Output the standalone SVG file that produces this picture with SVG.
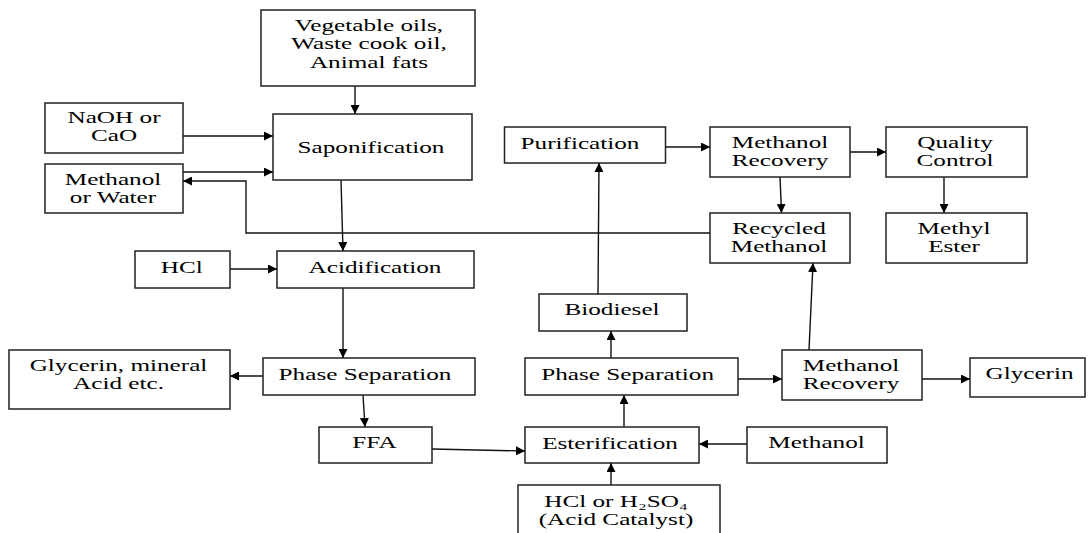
<svg xmlns="http://www.w3.org/2000/svg" width="1089" height="533" viewBox="0 0 1089 533">
<defs>
<marker id="ah" viewBox="0 0 10 10" refX="10" refY="5" markerWidth="9" markerHeight="9" markerUnits="userSpaceOnUse" orient="auto">
<path d="M0,0 L10,5 L0,10 z" fill="#000"/>
</marker>
<style>
.box{fill:#fff;stroke:#222;stroke-width:1.5}
text{font-family:'Liberation Serif','Times New Roman','DejaVu Serif',serif;font-size:16.8px;fill:#000;text-anchor:middle}
.c{fill:none;stroke:#111;stroke-width:1.4;marker-end:url(#ah)}
</style>
</defs>
<rect width="1089" height="533" fill="#fff"/>
<g id="connectors">
<path class="c" d="M355,86 V114"/>
<path class="c" d="M183,136 H273"/>
<path class="c" d="M183,172 H273"/>
<path class="c" d="M710,233 H246 V181 H183"/>
<path class="c" d="M341,180 L343,251"/>
<path class="c" d="M230,269 H277"/>
<path class="c" d="M343,288 V358"/>
<path class="c" d="M263,376 H230"/>
<path class="c" d="M363,395 L365,427"/>
<path class="c" d="M432,449 L525,451"/>
<path class="c" d="M747,444 H699"/>
<path class="c" d="M611,485 V463"/>
<path class="c" d="M624,427 V395"/>
<path class="c" d="M611,358 V331"/>
<path class="c" d="M738,379 H782"/>
<path class="c" d="M922,379 H970"/>
<path class="c" d="M809,350 L813,263"/>
<path class="c" d="M598,294 L599,163"/>
<path class="c" d="M666,147 H710"/>
<path class="c" d="M850,152 H886"/>
<path class="c" d="M780,177 L781.5,213"/>
<path class="c" d="M944,177 V213"/>
</g>
<g id="nodes" font-family="Liberation Serif, serif">
<g id="n-feed"><rect class="box" x="261" y="10" width="214" height="76"/>
<text transform="translate(369,31) scale(1.5,1)"><tspan x="0">Vegetable oils,</tspan><tspan x="0" dy="18.3">Waste cook oil,</tspan><tspan x="0" dy="18.3">Animal fats</tspan></text></g>
<g id="n-naoh"><rect class="box" x="45" y="103" width="138" height="50"/>
<text transform="translate(114,123) scale(1.5,1)"><tspan x="0">NaOH or</tspan><tspan x="0" dy="18.3">CaO</tspan></text></g>
<g id="n-mw"><rect class="box" x="45" y="164" width="138" height="49"/>
<text transform="translate(113,184.7) scale(1.5,1)"><tspan x="0">Methanol</tspan><tspan x="0" dy="18.3">or Water</tspan></text></g>
<g id="n-sapon"><rect class="box" x="273" y="114" width="199" height="66"/>
<text transform="translate(371,152.5) scale(1.5,1)">Saponification</text></g>
<g id="n-hcl"><rect class="box" x="135" y="251" width="95" height="37"/>
<text transform="translate(181.7,273) scale(1.5,1)">HCl</text></g>
<g id="n-acid"><rect class="box" x="277" y="251" width="197" height="37"/>
<text transform="translate(375,273) scale(1.5,1)">Acidification</text></g>
<g id="n-glymin"><rect class="box" x="9" y="350" width="221" height="59"/>
<text transform="translate(118.5,370.7) scale(1.5,1)"><tspan x="0">Glycerin, mineral</tspan><tspan x="0" dy="18.3">Acid etc.</tspan></text></g>
<g id="n-ps1"><rect class="box" x="263" y="358" width="212" height="37"/>
<text transform="translate(365,380) scale(1.5,1)">Phase Separation</text></g>
<g id="n-ffa"><rect class="box" x="319" y="427" width="113" height="36"/>
<text transform="translate(374.5,447.7) scale(1.5,1)">FFA</text></g>
<g id="n-ester"><rect class="box" x="525" y="427" width="174" height="36"/>
<text transform="translate(610,449) scale(1.5,1)">Esterification</text></g>
<g id="n-meoh"><rect class="box" x="747" y="427" width="140" height="36"/>
<text transform="translate(816.5,447.7) scale(1.5,1)">Methanol</text></g>
<g id="n-cat"><rect class="box" x="518" y="485" width="202" height="53"/>
<text transform="translate(616,506.6) scale(1.5,1)"><tspan x="0">HCl or H₂SO₄</tspan><tspan x="0" dy="18.3">(Acid Catalyst)</tspan></text></g>
<g id="n-ps2"><rect class="box" x="525" y="358" width="213" height="37"/>
<text transform="translate(627.6,380) scale(1.5,1)">Phase Separation</text></g>
<g id="n-bio"><rect class="box" x="539" y="294" width="148" height="37"/>
<text transform="translate(612,315) scale(1.5,1)">Biodiesel</text></g>
<g id="n-mr2"><rect class="box" x="782" y="350" width="140" height="50"/>
<text transform="translate(851,370.9) scale(1.5,1)"><tspan x="0">Methanol</tspan><tspan x="0" dy="18.3">Recovery</tspan></text></g>
<g id="n-gly"><rect class="box" x="970" y="358" width="115" height="39"/>
<text transform="translate(1029.5,379) scale(1.5,1)">Glycerin</text></g>
<g id="n-purif"><rect class="box" x="504.5" y="127" width="161" height="36"/>
<text transform="translate(580,149) scale(1.5,1)">Purification</text></g>
<g id="n-mr1"><rect class="box" x="710" y="127" width="140" height="50"/>
<text transform="translate(780,147.6) scale(1.5,1)"><tspan x="0">Methanol</tspan><tspan x="0" dy="18.3">Recovery</tspan></text></g>
<g id="n-qc"><rect class="box" x="886" y="127" width="141" height="50"/>
<text transform="translate(955,147.6) scale(1.5,1)"><tspan x="0">Quality</tspan><tspan x="0" dy="18.3">Control</tspan></text></g>
<g id="n-recy"><rect class="box" x="710" y="213" width="140" height="50"/>
<text transform="translate(779,233.7) scale(1.5,1)"><tspan x="0">Recycled</tspan><tspan x="0" dy="18.3">Methanol</tspan></text></g>
<g id="n-me"><rect class="box" x="886" y="213" width="141" height="50"/>
<text transform="translate(954,233.7) scale(1.5,1)"><tspan x="0">Methyl</tspan><tspan x="0" dy="18.3">Ester</tspan></text></g>
</g>
</svg>
